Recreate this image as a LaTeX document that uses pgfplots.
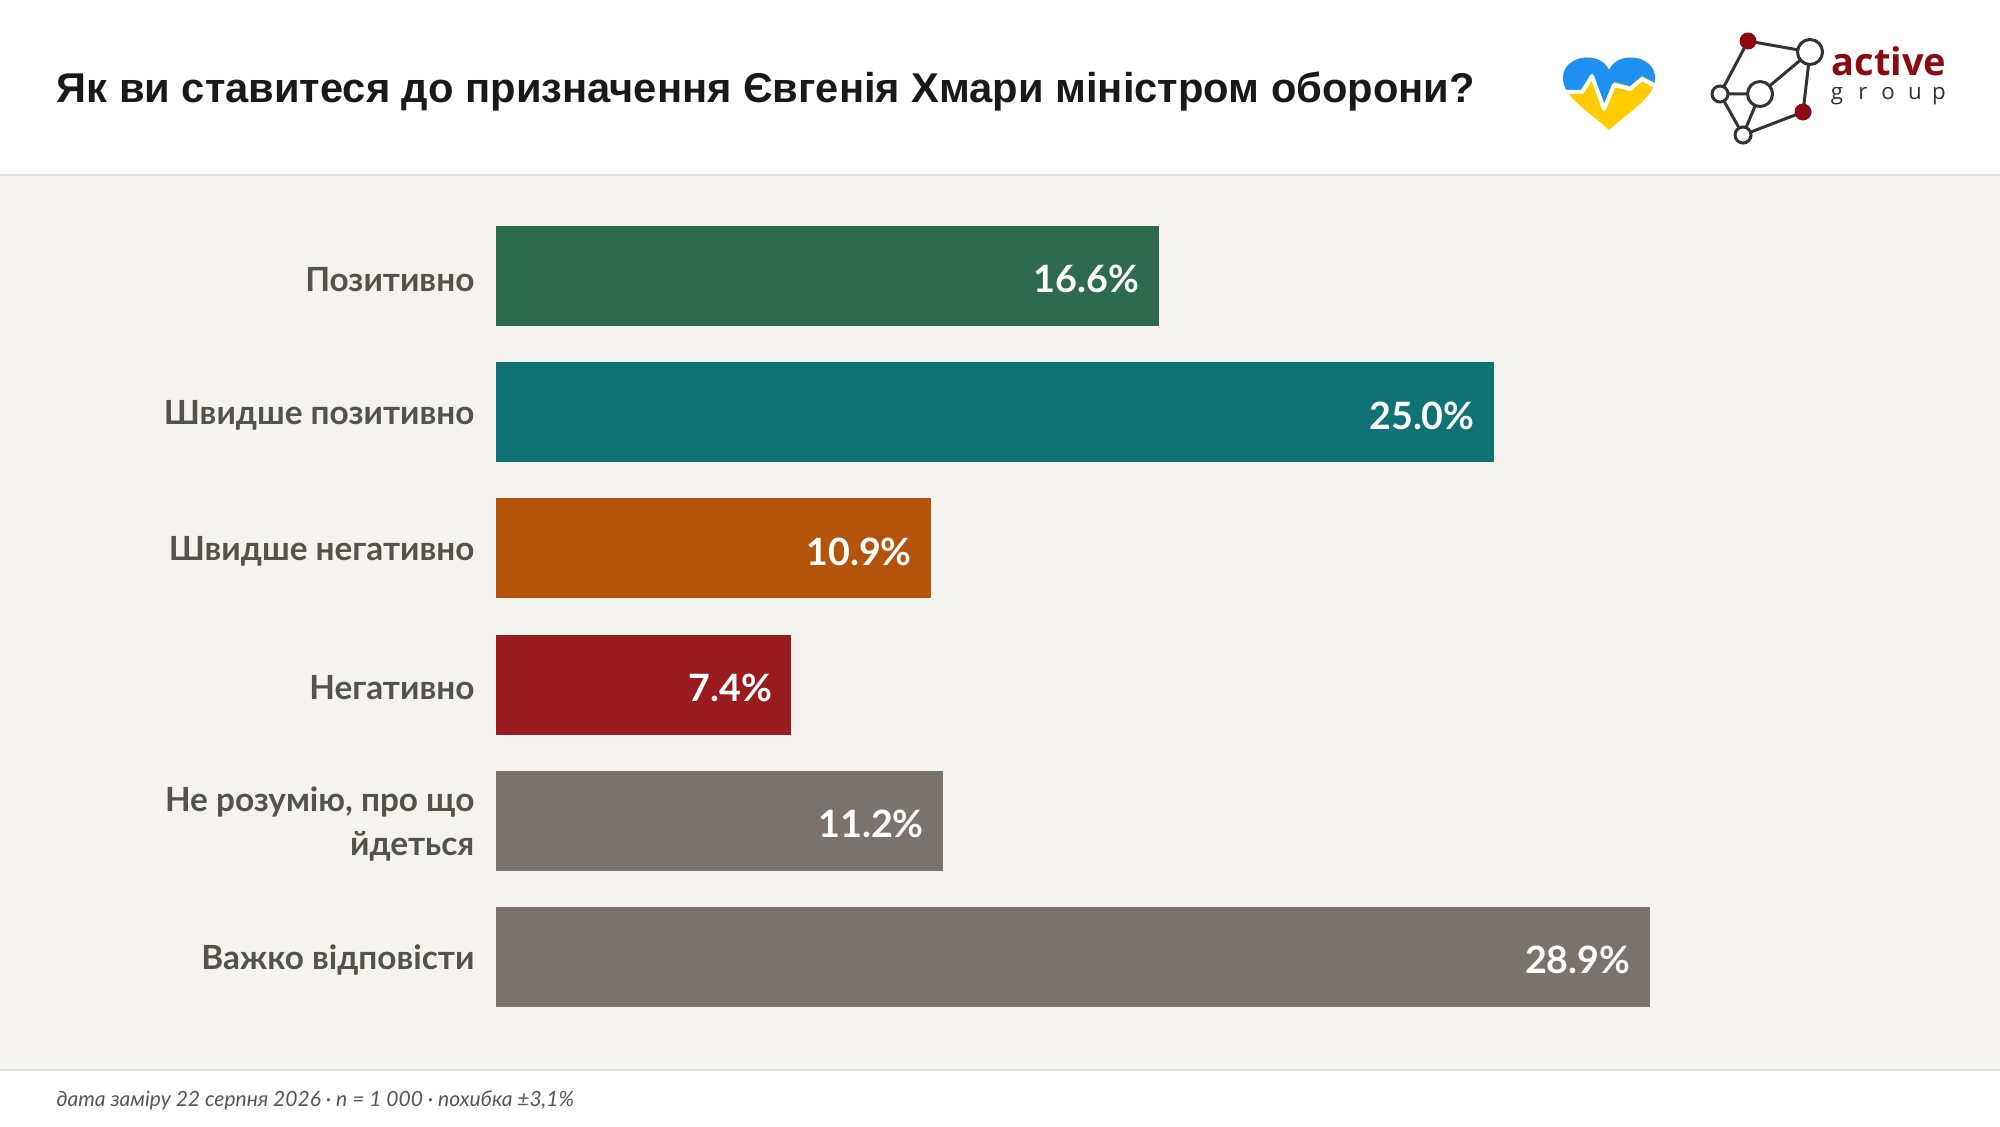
\documentclass[border=0pt]{standalone}
\usepackage{pgfplots}
\pgfplotsset{compat=1.18}
\usepackage{fontspec}
\setmainfont{Lato}
\newfontfamily\titlefont{Liberation Sans}
\newfontfamily\logofont{Open Sans}
\definecolor{bg}{HTML}{F4F3EF}
\definecolor{linegray}{HTML}{E2E0DC}
\definecolor{labelgray}{HTML}{56514B}
\definecolor{cgreen}{HTML}{2D6A4F}
\definecolor{cteal}{HTML}{0F7274}
\definecolor{corange}{HTML}{B4540A}
\definecolor{cred}{HTML}{9A1B1E}
\definecolor{cgray}{HTML}{7A726C}
\definecolor{footgray}{HTML}{555555}
\definecolor{heartblue}{HTML}{1E90F0}
\definecolor{heartyellow}{HTML}{FFCC00}
\definecolor{logored}{HTML}{8B0A0F}
\definecolor{logodark}{HTML}{333333}
\begin{document}
\begin{tikzpicture}
\begin{scope}[x=0.3pt,y=-0.3pt,shift={(0pt,337.8pt)}]
  \fill[white] (0,0) rectangle (2000,1126);
  \fill[bg] (0,175) rectangle (2000,1070);
  \draw[linegray, line width=0.6pt] (0,175) -- (2000,175);
  \draw[linegray, line width=0.6pt] (0,1070) -- (2000,1070);
  \node[anchor=base west, inner sep=0pt, font=\titlefont\bfseries\fontsize{12.5}{14}\selectfont, text=black!90] at (56,103) {Як ви ставитеся до призначення Євгенія Хмари міністром оборони?};
  \node[anchor=base west, inner sep=0pt, font=\itshape\fontsize{6.3}{7.5}\selectfont, text=footgray] at (56,1106) {дата заміру 22 серпня 2026 · n = 1 000 · похибка ±3,1\%};
  % heart logo
  \begin{scope}
    \clip (1609,130) .. controls (1590,112) and (1563,98) .. (1563,78) .. controls (1563,55) and (1600,50) .. (1609,70) .. controls (1618,50) and (1655,55) .. (1655,78) .. controls (1655,98) and (1628,112) .. (1609,130) -- cycle;
    \fill[heartyellow] (1555,45) rectangle (1665,140);
    \fill[heartblue] (1555,45) -- (1555,90) -- (1583,90) -- (1592,73) -- (1604,106) -- (1614,82) -- (1630,86) -- (1642,76) -- (1665,88) -- (1665,45) -- cycle;
    \draw[white, line width=1.2pt, line join=round] (1555,92) -- (1582,92) -- (1592,76) -- (1604,109) -- (1614,85) -- (1630,89) -- (1642,79) -- (1665,91);
  \end{scope}
  % network logo
  \begin{scope}[line width=0.9pt, draw=logodark]
    \draw[logodark] (1748,41) -- (1810,52) -- (1803,112) -- (1743,135) -- (1720,94) -- (1748,41);
    \draw[logodark] (1810,52) -- (1760,94) -- (1720,94);
    \draw[logodark] (1760,94) -- (1743,135);
    \fill[logored] (1748,41) circle (8.5);
    \fill[logored] (1803,112) circle (8.5);
    \filldraw[fill=white, draw=logodark] (1810,52) circle (12.5);
    \filldraw[fill=white, draw=logodark] (1760,94) circle (12.5);
    \filldraw[fill=white, draw=logodark] (1720,94) circle (8);
    \filldraw[fill=white, draw=logodark] (1743,135) circle (8);
  \end{scope}
  \node[anchor=base west, inner sep=0pt, font=\logofont\bfseries\fontsize{11.4}{13}\selectfont, text=logored] at (1831,76) {active};
  \foreach \ch/\xx in {g/1837,r/1863,o/1888,u/1915,p/1939}
    \node[anchor=base, inner sep=0pt, font=\logofont\fontsize{6.7}{8}\selectfont, text=logodark] at (\xx,100) {\ch};
\end{scope}
\begin{axis}[
  at={(148.8pt,275.43pt)}, anchor=north west,
  scale only axis, width=359.28pt, height=245.16pt,
  xbar, bar shift=0pt, bar width=30pt,
  xmin=0, xmax=30, ymin=-0.5, ymax=5.5, y dir=reverse,
  axis line style={draw=none}, major tick length=0pt,
  xtick=\empty, ytick={0,1,2,3,4,5},
  yticklabels={Позитивно, Швидше позитивно, Швидше негативно, Негативно, {Не розумію, про що\\йдеться}, Важко відповісти},
  yticklabel style={font=\bfseries\fontsize{10}{13.2}\selectfont, text=labelgray, align=right, anchor=east, inner sep=0pt, xshift=-6.3pt, yshift=-1pt},
  /pgf/number format/assume math mode=true,
  point meta=x,
  nodes near coords={\pgfmathprintnumber[fixed,fixed zerofill,precision=1]{\pgfplotspointmeta}\%},
  every node near coord/.append style={anchor=east, xshift=-5.6pt, yshift=-1pt, text=white, font=\bfseries\fontsize{11.3}{14}\selectfont, inner sep=0pt},
  clip=false,
]
\addplot[fill=cgreen, draw=none] coordinates {(16.6,0)};
\addplot[fill=cteal, draw=none] coordinates {(25.0,1)};
\addplot[fill=corange, draw=none] coordinates {(10.9,2)};
\addplot[fill=cred, draw=none] coordinates {(7.4,3)};
\addplot[fill=cgray, draw=none] coordinates {(11.2,4)};
\addplot[fill=cgray, draw=none] coordinates {(28.9,5)};
\end{axis}
\pgfresetboundingbox
\path (0,0) rectangle (600pt,337.8pt);
\end{tikzpicture}
\end{document}
